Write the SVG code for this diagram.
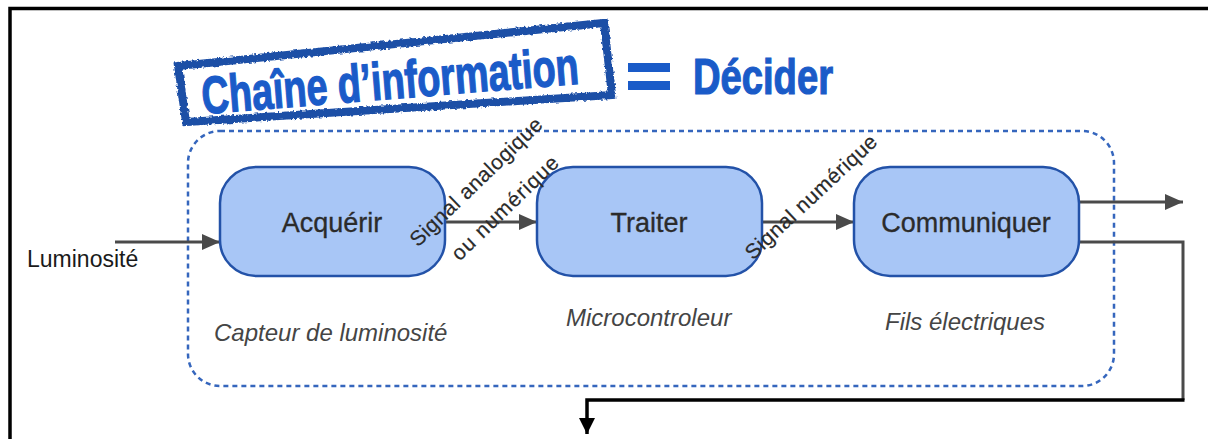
<svg xmlns="http://www.w3.org/2000/svg" width="1208" height="439" viewBox="0 0 1208 439">
  <style>
    .frame { stroke: #000; stroke-width: 3.5; fill: none; }
    .node rect { fill: #a8c6f6; stroke: #2352a8; stroke-width: 2.5; }
    .lbl { font-family: "Liberation Sans", Arial, sans-serif; font-size: 27px; fill: #2b2b2b; stroke: #2b2b2b; stroke-width: 0.3; text-anchor: middle; }
    .cap { font-family: "Liberation Sans", Arial, sans-serif; font-style: italic; font-size: 24px; fill: #454545; }
    .sig { font-family: "Liberation Sans", Arial, sans-serif; font-size: 21px; fill: #2a2a2a; stroke: #2a2a2a; stroke-width: 0.2; text-anchor: middle; }
    .wire { stroke: #4a4a4a; stroke-width: 3; fill: none; }
    .wire-dark { stroke: #000; stroke-width: 3.5; fill: none; }
    .title { font-family: "Liberation Sans Narrow", "Liberation Sans", Arial, sans-serif; font-weight: bold; fill: #1a5bc8; stroke: #1a5bc8; stroke-width: 0.8; }
  </style>
  <defs>
    <marker id="head" markerUnits="userSpaceOnUse" markerWidth="18" markerHeight="16" refX="18" refY="8" orient="auto">
      <path d="M0,0 L18,8 L0,16 Z" fill="#4a4a4a"/>
    </marker>
    <marker id="head-dark" markerUnits="userSpaceOnUse" markerWidth="16" markerHeight="16" refX="16" refY="8" orient="auto">
      <path d="M0,0 L16,8 L0,16 Z" fill="#000"/>
    </marker>
    <filter id="rough" x="-5%" y="-20%" width="110%" height="140%">
      <feTurbulence type="fractalNoise" baseFrequency="0.35" numOctaves="2" seed="3" result="n"/>
      <feDisplacementMap in="SourceGraphic" in2="n" scale="4" xChannelSelector="R" yChannelSelector="G"/>
    </filter>
  </defs>

  <!-- page frame -->
  <path class="frame" d="M10,439 V8.5 H1208"/>

  <!-- title stamp -->
  <g id="title">
    <polygon points="178,66 604,23 612,95 186,122" fill="#fff" stroke="#1d4fa6" stroke-width="8" stroke-linejoin="miter" filter="url(#rough)"/>
    <g transform="translate(203,114) rotate(-4.6) scale(1,1.6)">
      <text class="title" x="0" y="0" font-size="33" textLength="378" lengthAdjust="spacingAndGlyphs">Chaîne d’information</text>
    </g>
    <rect x="628" y="63" width="42" height="9" fill="#1a5bc8"/>
    <rect x="628" y="81" width="42" height="9" fill="#1a5bc8"/>
    <g transform="translate(693,94) scale(1,1.55)">
      <text class="title" x="0" y="0" font-size="32" textLength="140" lengthAdjust="spacingAndGlyphs">Décider</text>
    </g>
  </g>

  <!-- boundary of the information chain -->
  <rect id="boundary" x="188" y="131" width="926" height="255" rx="32" fill="none" stroke="#3566bd" stroke-width="2.5" stroke-dasharray="5 4"/>

  <!-- connectors -->
  <g id="connectors">
    <line class="wire" x1="115" y1="242" x2="220" y2="242" marker-end="url(#head)"/>
    <line class="wire" x1="445" y1="222" x2="537" y2="222" marker-end="url(#head)"/>
    <line class="wire" x1="762" y1="222" x2="854" y2="222" marker-end="url(#head)"/>
    <line class="wire" x1="1079" y1="202" x2="1183" y2="202" marker-end="url(#head)"/>
    <path class="wire" d="M1079,242 H1183 V400"/>
    <path class="wire-dark" d="M1184.5,400 H587 V434" marker-end="url(#head-dark)"/>
  </g>

  <!-- input label -->
  <text id="input" x="27" y="267" font-family="'Liberation Sans', Arial, sans-serif" font-size="23" fill="#1a1a1a">Luminosité</text>

  <!-- function blocks -->
  <g id="acquerir" class="node">
    <rect x="220" y="167" width="225" height="109" rx="36"/>
    <text class="lbl" x="332" y="232">Acquérir</text>
    <text class="cap" x="214" y="341">Capteur de luminosité</text>
  </g>
  <g id="traiter" class="node">
    <rect x="537" y="167" width="225" height="109" rx="36"/>
    <text class="lbl" x="649" y="232">Traiter</text>
    <text class="cap" x="566" y="326">Microcontroleur</text>
  </g>
  <g id="communiquer" class="node">
    <rect x="854" y="167" width="225" height="109" rx="36"/>
    <text class="lbl" x="966" y="232">Communiquer</text>
    <text class="cap" x="885" y="330">Fils électriques</text>
  </g>

  <!-- signal labels, drawn over the blocks -->
  <g id="signals">
    <text class="sig" transform="translate(476,182) rotate(-44)" x="0" y="7" textLength="175" lengthAdjust="spacing">Signal analogique</text>
    <text class="sig" transform="translate(505,208) rotate(-44)" x="0" y="7" textLength="140" lengthAdjust="spacing">ou numérique</text>
    <text class="sig" transform="translate(811,197) rotate(-43)" x="0" y="7" textLength="172" lengthAdjust="spacing">Signal numérique</text>
  </g>
</svg>
